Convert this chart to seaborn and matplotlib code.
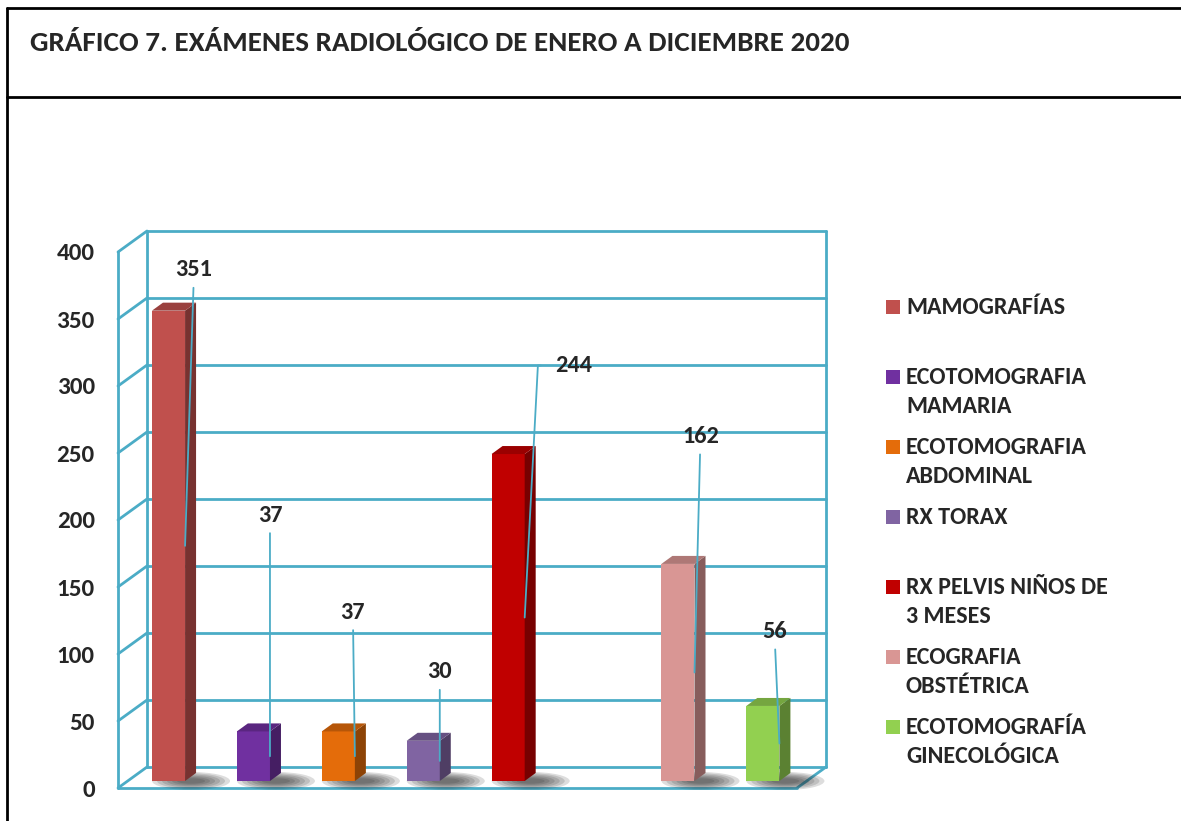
import numpy as np
import pandas as pd
import matplotlib
matplotlib.use("Agg")
import matplotlib.pyplot as plt
import seaborn as sns
from matplotlib.patches import Polygon, Ellipse, Rectangle
from matplotlib.lines import Line2D
from matplotlib.colors import to_rgb
from matplotlib.transforms import ScaledTranslation

# datos del gráfico
categorias = ["MAMOGRAFÍAS", "ECOTOMOGRAFIA MAMARIA", "ECOTOMOGRAFIA ABDOMINAL",
              "RX TORAX", "RX PELVIS NIÑOS DE 3 MESES", "ECOGRAFIA OBSTÉTRICA",
              "ECOTOMOGRAFÍA GINECOLÓGICA"]
valores = [351, 37, 37, 30, 244, 162, 56]
leyenda = ["MAMOGRAFÍAS", "ECOTOMOGRAFIA\nMAMARIA", "ECOTOMOGRAFIA\nABDOMINAL",
           "RX TORAX", "RX PELVIS NIÑOS DE\n3 MESES", "ECOGRAFIA\nOBSTÉTRICA",
           "ECOTOMOGRAFÍA\nGINECOLÓGICA"]
colores = ["#C0504D", "#7030A0", "#E46C0A", "#8064A2", "#C00000", "#D99694", "#92D050"]
hueco = " "  # hay una columna vacía entre RX PELVIS y ECOGRAFIA
ticks_y = [0, 50, 100, 150, 200, 250, 300, 350, 400]

# desplazamiento de las etiquetas (pixeles) respecto al punto medio de cada barra
etiq_off = [(9, 276), (0, 241), (-2, 144), (0, 89), (49, 252), (6, 236), (-5, 112)]

df = pd.DataFrame({"examen": categorias, "cantidad": valores})
orden = categorias[:5] + [hueco] + categorias[5:]

W, H = 1181, 821
TEAL = "#4BACC6"
sns.set_style("white")
plt.rcParams["font.family"] = ["Carlito", "DejaVu Sans"]

fig = plt.figure(figsize=(W / 100, H / 100), dpi=100)
ax = fig.add_axes([128 / W, 40 / H, 679 / W, 536 / H])

sns.barplot(data=df, x="examen", y="cantidad", order=orden, hue="examen",
            hue_order=categorias, palette=colores, width=0.39, dodge=False,
            saturation=1, legend=False, ax=ax, zorder=3, linewidth=0)

xl, xr = -0.477, 7.52
ax.set_xlim(xl, xr)
ax.set_ylim(0, 400)
ax.set_xlabel("")
ax.set_ylabel("")
ax.set_xticks([])
ax.set_yticks(ticks_y)
sns.despine(ax=ax, left=True, bottom=True)
ax.tick_params(axis="y", length=0, pad=24, labelsize=18)
off = ScaledTranslation(0, -7 / 100, fig.dpi_scale_trans)
for t in ax.yaxis.get_major_ticks():
    t.label1.set_fontweight("bold")
    t.label1.set_transform(t.label1.get_transform() + off)

# escala pixel -> dato
sx = 679 / (xr - xl)
sy = 536 / 400
fdx, fdy = -10 / sx, -7 / sy   # plano frontal
bdx, bdy = 19 / sx, 14 / sy    # pared del fondo

kw = dict(color=TEAL, lw=2, clip_on=False, zorder=1, solid_capstyle="round")
for k in ticks_y:
    ax.plot([xl + bdx, xr + bdx], [k + bdy, k + bdy], **kw)
    ax.plot([xl + fdx, xl + bdx], [k + fdy, k + bdy], **kw)
ax.plot([xl + bdx, xl + bdx], [bdy, 400 + bdy], **kw)
ax.plot([xr + bdx, xr + bdx], [bdy, 400 + bdy], **kw)
ax.plot([xl + fdx, xl + fdx], [fdy, 400 + fdy], **kw)
ax.plot([xl + fdx, xr + fdx], [fdy, fdy], **kw)
ax.plot([xr + fdx, xr + bdx], [fdy, bdy], **kw)

# efecto 3D de las barras
barras = [p for p in ax.patches if isinstance(p, Rectangle)
          and np.isfinite(p.get_height()) and p.get_height() > 0]
barras.sort(key=lambda p: p.get_x())
ddx, ddy = 11 / sx, 8 / sy
for p in barras:
    x0, w, h = p.get_x(), p.get_width(), p.get_height()
    x1 = x0 + w
    c = np.array(to_rgb(p.get_facecolor()))
    for i in range(6):
        ax.add_patch(Ellipse((x1 + 6 / sx, 0), (78 - 10 * i) / sx, (18 - 2.5 * i) / sy,
                             color="#202020", alpha=0.15, lw=0, zorder=2, clip_on=False))
    ax.add_patch(Polygon([(x1, 0), (x1 + ddx, ddy), (x1 + ddx, h + ddy), (x1, h)],
                         closed=True, color=c * 0.62, lw=0, zorder=3.1))
    ax.add_patch(Polygon([(x0, h), (x1, h), (x1 + ddx, h + ddy), (x0 + ddx, h + ddy)],
                         closed=True, color=c * 0.8, lw=0, zorder=3.1))

# etiquetas de datos con líneas guía
for p, v, (ox, oy) in zip(barras, valores, etiq_off):
    x1 = p.get_x() + p.get_width()
    props = dict(arrowstyle="-", color=TEAL, lw=1.3, shrinkA=3, shrinkB=0)
    if ox > 30:
        props.update(connectionstyle="angle,angleA=0,angleB=87,rad=0", relpos=(0, 0.5), shrinkA=8)
    ax.annotate(str(v), xy=(x1, v / 2), xytext=(ox, oy), textcoords="offset pixels",
                ha="center", va="center", fontsize=17.5, fontweight="bold",
                arrowprops=props, zorder=5, annotation_clip=False)

# leyenda
for i, (lab, col) in enumerate(zip(leyenda, colores)):
    yc = 307 + 70 * i
    fig.patches.append(Rectangle((886 / W, 1 - (yc + 7) / H), 14 / W, 14 / H,
                                 transform=fig.transFigure, color=col, lw=0))
    for j, linea in enumerate(lab.split("\n")):
        fig.text(906 / W, 1 - (yc + 7 + 29 * j) / H, linea, fontsize=17.3,
                 fontweight="bold", va="baseline", ha="left")

# título y recuadro
fig.text(30 / W, 1 - 51 / H, "GRÁFICO 7. EXÁMENES RADIOLÓGICO DE ENERO A DICIEMBRE 2020",
         fontsize=21, fontweight="bold", va="baseline", ha="left")
for (x0, y0, x1, y1) in [(7, 8, W, 8), (7, 97, W, 97), (7, 8, 7, H)]:
    fig.add_artist(Line2D([x0 / W, x1 / W], [1 - y0 / H, 1 - y1 / H],
                          transform=fig.transFigure, color="black", lw=2))

fig.savefig("out.png", dpi=100)
